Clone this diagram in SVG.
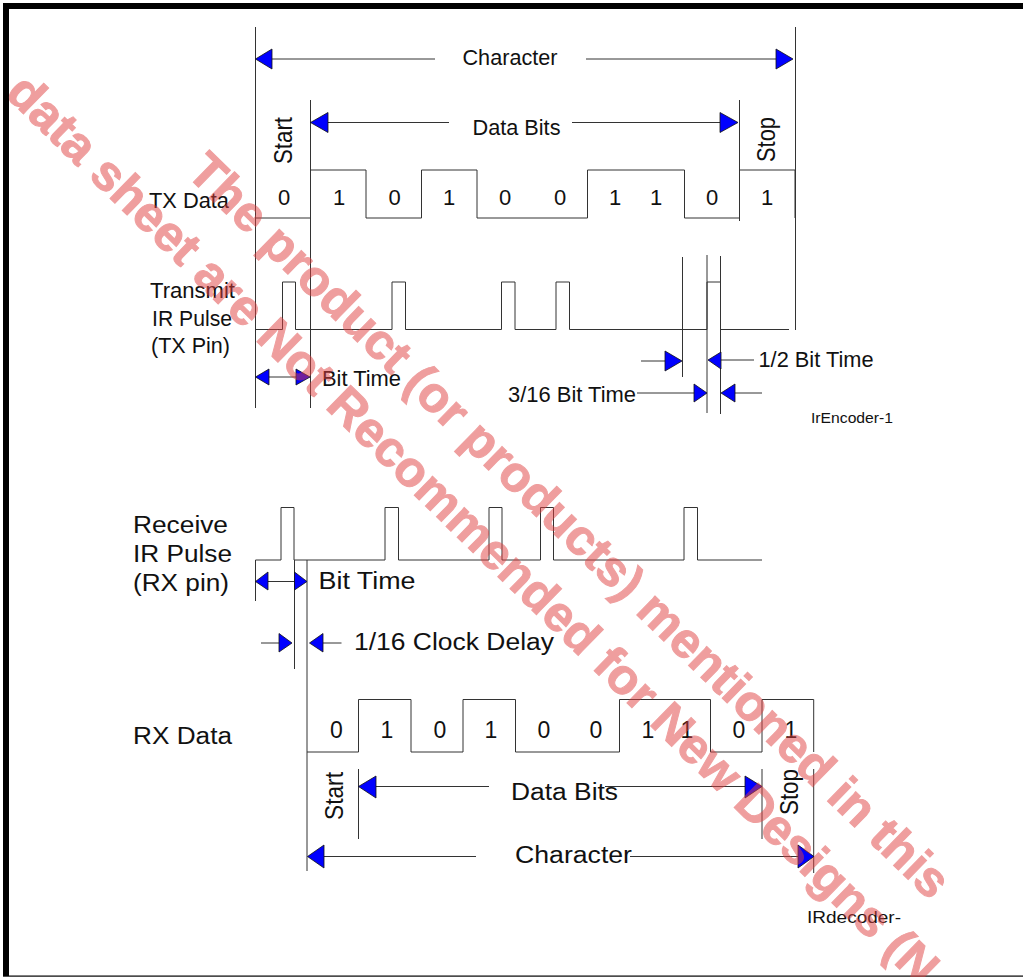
<svg xmlns="http://www.w3.org/2000/svg" width="1023" height="977" viewBox="0 0 1023 977">
<style>
.l{fill:none;stroke:#333;stroke-width:1}
.a{fill:#0000ff;stroke:#111;stroke-width:.8}
text{font-family:"Liberation Sans",Arial,sans-serif;fill:#111}
.u{font-size:21.5px}
.d{font-size:22px;text-anchor:middle}
.v{font-size:25px}
.b{font-size:23.5px}
.e{font-size:23px;text-anchor:middle}
.w{font-size:50px;font-weight:bold;fill:#e04040;stroke:#e04040;stroke-width:1}
</style>
<rect x="0" y="0" width="1023" height="977" fill="#fff"/>
<path id="frame" d="M3 3H1023V9H9V976H3Z" fill="#000"/>
<rect x="3" y="975.5" width="1020" height="1.2" fill="#000"/>
<g id="connectors">
<path class="l" d="M255.5 27V408M310.5 100V408M795.5 27V330M739.5 100V221"/>
<path class="l" d="M272 59H435M586 59H776M328 122.5H449M572 122.5H720"/>
<path class="l" d="M255 218H310.5V170H366V218H421.5V170H477V218H587.5V170H684.5V218H739.5V170H795V218"/>
<path class="l" d="M255 329.500H282.500V282H295.500V329.500H392V282H405.500V329.500H501.500V282H515V329.500H556V282H569.500V329.500H707V282H720.500V329.500H789"/>
<path class="l" d="M682.500 257V377M707 255V413M720.500 256V414"/>
<path class="l" d="M269 377H296M641 361H665M721 360H754M637 393H694M735 393H762"/>
<path class="l" d="M255.500 560H281V507.500H294V560H385V507.500H398.500V560H489V507.500H502V560H540.500V507.500H553.500V560H684V507.500H697.500V560H762"/>
<path class="l" d="M255.500 560V601M294.500 560V669M307 560V871"/>
<path class="l" d="M268 581.500H294.500M261 643H279M323 643H341.500"/>
<path class="l" d="M307 752H358.500V699.500H411V752H463V699.500H515.500V752H619.500V699.500H710.500V752H762V699.500H813.700V752"/>
<path class="l" d="M358.500 769V839M762 769V839M813.700 769V873"/>
<path class="l" d="M376 786.500H489M605 786.500H745M324 856.500H476M630 856.500H798"/>
</g>
<g id="arrowheads">
<polygon class="a" points="255.500,59 272,49 272,69"/>
<polygon class="a" points="793,59 776,49 776,69"/>
<polygon class="a" points="310.500,122.500 328,112.500 328,132.500"/>
<polygon class="a" points="738,122.500 720,112.500 720,132.500"/>
<polygon class="a" points="255.500,377 269,369 269,385"/>
<polygon class="a" points="310,377 296,369 296,385"/>
<polygon class="a" points="682,361 665,351 665,371"/>
<polygon class="a" points="708,360 721,352 721,369"/>
<polygon class="a" points="707,393 694,384 694,402"/>
<polygon class="a" points="721,393 735,384 735,402"/>
<polygon class="a" points="255.500,581.500 268,572 268,590"/>
<polygon class="a" points="307,581.500 294.500,572 294.500,590"/>
<polygon class="a" points="292,643 279,633.500 279,652"/>
<polygon class="a" points="309.500,643 323,633.500 323,652"/>
<polygon class="a" points="358.500,786.500 376,776 376,798"/>
<polygon class="a" points="762,786.500 745,776 745,798"/>
<polygon class="a" points="307.500,856.500 324,845 324,868"/>
<polygon class="a" points="814,856.500 798,845 798,868"/>
</g>
<g id="labels-tx">
<text class="u" x="462.500" y="65" textLength="95" lengthAdjust="spacingAndGlyphs">Character</text>
<text class="u" x="472.500" y="135" textLength="88" lengthAdjust="spacingAndGlyphs">Data Bits</text>
<text class="v" transform="translate(292 164) rotate(-90)" textLength="47" lengthAdjust="spacingAndGlyphs">Start</text>
<text class="v" transform="translate(775 162) rotate(-90)" textLength="45" lengthAdjust="spacingAndGlyphs">Stop</text>
<text class="u" x="149" y="208" textLength="80" lengthAdjust="spacingAndGlyphs">TX Data</text>
<text class="u" x="150" y="298" textLength="85" lengthAdjust="spacingAndGlyphs">Transmit</text>
<text class="u" x="152" y="326" textLength="80" lengthAdjust="spacingAndGlyphs">IR Pulse</text>
<text class="u" x="151" y="353" textLength="79" lengthAdjust="spacingAndGlyphs">(TX Pin)</text>
<text class="u" x="322" y="386" textLength="79" lengthAdjust="spacingAndGlyphs">Bit Time</text>
<text class="u" x="758.500" y="367" textLength="115" lengthAdjust="spacingAndGlyphs">1/2 Bit Time</text>
<text class="u" x="508" y="402" textLength="128" lengthAdjust="spacingAndGlyphs">3/16 Bit Time</text>
<text x="811" y="423" font-size="14.500" textLength="82" lengthAdjust="spacingAndGlyphs">IrEncoder-1</text>
<text class="d" x="284" y="205">0</text><text class="d" x="339" y="205">1</text><text class="d" x="394.500" y="205">0</text><text class="d" x="449" y="205">1</text><text class="d" x="505" y="205">0</text><text class="d" x="560" y="205">0</text><text class="d" x="615" y="205">1</text><text class="d" x="656" y="205">1</text><text class="d" x="712" y="205">0</text><text class="d" x="767" y="205">1</text>
</g>
<g id="labels-rx">
<text class="b" x="133" y="533" textLength="95" lengthAdjust="spacingAndGlyphs">Receive</text>
<text class="b" x="133" y="562" textLength="99" lengthAdjust="spacingAndGlyphs">IR Pulse</text>
<text class="b" x="133" y="590.500" textLength="96" lengthAdjust="spacingAndGlyphs">(RX pin)</text>
<text class="b" x="133" y="744" textLength="99" lengthAdjust="spacingAndGlyphs">RX Data</text>
<text class="b" x="318.500" y="589" textLength="97" lengthAdjust="spacingAndGlyphs">Bit Time</text>
<text class="b" x="354" y="650" textLength="200" lengthAdjust="spacingAndGlyphs">1/16 Clock Delay</text>
<text class="b" x="511" y="800" textLength="107" lengthAdjust="spacingAndGlyphs">Data Bits</text>
<text class="b" x="515" y="863" textLength="117" lengthAdjust="spacingAndGlyphs">Character</text>
<text class="v" transform="translate(343 820) rotate(-90)" textLength="48" lengthAdjust="spacingAndGlyphs">Start</text>
<text class="v" transform="translate(798 815) rotate(-90)" textLength="46" lengthAdjust="spacingAndGlyphs">Stop</text>
<text x="807" y="923" font-size="16" textLength="94" lengthAdjust="spacingAndGlyphs">IRdecoder-</text>
<text class="e" x="336.500" y="738">0</text><text class="e" x="387" y="738">1</text><text class="e" x="440" y="738">0</text><text class="e" x="491" y="738">1</text><text class="e" x="544" y="738">0</text><text class="e" x="596" y="738">0</text><text class="e" x="648" y="738">1</text><text class="e" x="687" y="738">1</text><text class="e" x="739" y="738">0</text><text class="e" x="791" y="738">1</text>
</g>
<g id="watermark" opacity=".5">
<text class="w" transform="translate(185 174) rotate(44.300)">The product (or products) mentioned in this</text>
<text class="w" transform="translate(4 95) rotate(44.300)">data sheet are Not Recommended for New Designs (N</text>
</g>
</svg>
